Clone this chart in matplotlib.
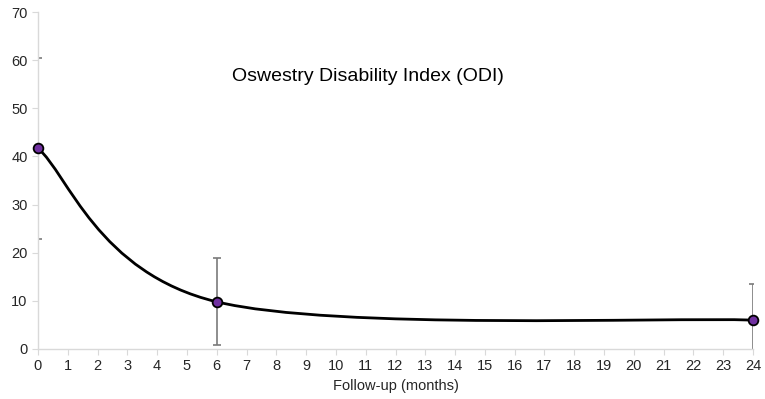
import numpy as np
import matplotlib
matplotlib.use("Agg")
import matplotlib.pyplot as plt
from matplotlib.path import Path
from matplotlib.patches import PathPatch

plt.rcParams['font.family'] = ['Liberation Sans', 'DejaVu Sans']

months = [0, 6, 24]
odi = [41.7, 9.8, 6.0]
odi_err = [18.8, 9.0, 7.6]
xticks = list(range(0, 25))
yticks = list(range(0, 71, 10))

fig = plt.figure(figsize=(7.65, 3.99), dpi=100)
ax = fig.add_axes([38/765, 50/399, 715/765, 337/399])

# Excel style smoothed line: bezier segments through the data points
pts = np.column_stack([months, odi])
ext = np.vstack([pts[0], pts, pts[-1]])
verts = [tuple(pts[0])]
codes = [Path.MOVETO]
for i in range(len(pts) - 1):
    p0, p1, p2, p3 = ext[i], ext[i+1], ext[i+2], ext[i+3]
    c1 = p1 + (p2 - p0) / 6
    c2 = p2 - (p3 - p1) / 6
    verts += [tuple(c1), tuple(c2), tuple(p2)]
    codes += [Path.CURVE4] * 3
ax.add_patch(PathPatch(Path(verts, codes), fill=False, edgecolor='black', lw=2.0, zorder=3))

ax.errorbar(months, odi, yerr=odi_err, fmt='none', ecolor='#7a7a7a', elinewidth=1.2,
            capsize=3, capthick=1.2, zorder=2)
ax.plot(months, odi, 'o', ms=7, mfc='#7030A0', mec='black', mew=1.3, zorder=4, clip_on=False)

ax.set_xlim(0, 24)
ax.set_ylim(0, 70)
ax.set_xticks(xticks)
ax.set_yticks(yticks)
for s in ['top', 'right']:
    ax.spines[s].set_visible(False)
for s in ['left', 'bottom']:
    ax.spines[s].set_color('#d9d9d9')
    ax.spines[s].set_linewidth(1.0)
ax.tick_params(colors='#d9d9d9', labelcolor='#262626', labelsize=10.5, length=4)
ax.set_xlabel('Follow-up (months)', fontsize=10.5, color='#262626', labelpad=4)
ax.text(0.462, 0.81, 'Oswestry Disability Index (ODI)', transform=ax.transAxes,
        ha='center', va='center', fontsize=14, color='black')

fig.savefig('out.png', dpi=100)
